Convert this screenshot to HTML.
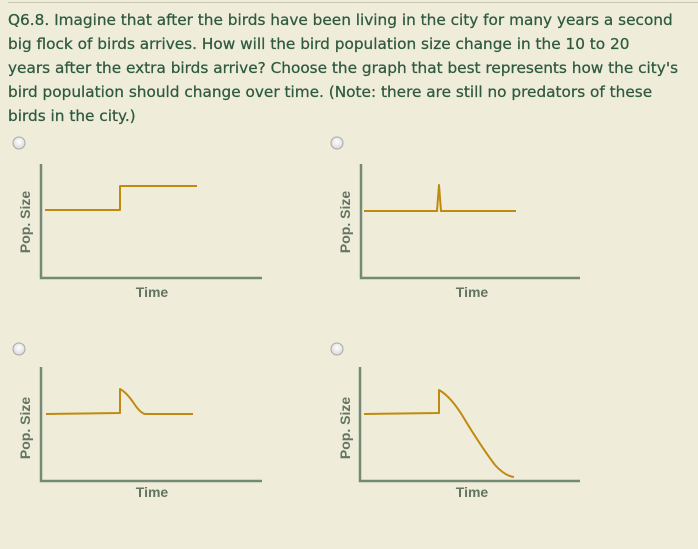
<!DOCTYPE html>
<html><head><meta charset="utf-8"><style>
html,body{margin:0;padding:0;width:698px;height:549px;background:#efecd9;overflow:hidden}
.q{position:absolute;left:8px;top:8px;width:690px;white-space:nowrap;font-family:"DejaVu Sans","Liberation Sans",sans-serif;font-size:15.3px;line-height:24px;color:#2e5a40;-webkit-text-stroke:0.25px #2e5a40}
.top{position:absolute;left:8px;top:2px;width:690px;height:1px;background:#c9c8b0}
svg{position:absolute;left:0;top:0}
</style></head><body>
<div class="top"></div>
<div class="q">Q6.8. Imagine that after the birds have been living in the city for many years a second<br>big flock of birds arrives. How will the bird population size change in the 10 to 20<br>years after the extra birds arrive? Choose the graph that best represents how the city's<br>bird population should change over time. (Note: there are still no predators of these<br>birds in the city.)</div>
<svg width="698" height="549" xmlns="http://www.w3.org/2000/svg">
<defs><radialGradient id="r" cx="50%" cy="40%" r="60%"><stop offset="0" stop-color="#ffffff"/><stop offset="1" stop-color="#d8d8d8"/></radialGradient></defs>
<g stroke="#a8a8a8" stroke-width="1" fill="url(#r)">
<circle cx="19" cy="143" r="6"/><circle cx="337" cy="143" r="6"/>
<circle cx="19" cy="349" r="6"/><circle cx="337" cy="349" r="6"/>
</g>
<g stroke="#748a74" stroke-width="2.5" fill="none">
<path d="M41 164V278H262"/><path d="M361 164V278H580"/>
<path d="M41 367V481H262"/><path d="M360 367V481H580"/>
</g>
<g font-family="Liberation Sans,sans-serif" font-weight="bold" font-size="14" fill="#627462" text-anchor="middle">
<text x="152" y="297">Time</text><text x="472" y="297">Time</text>
<text x="152" y="497">Time</text><text x="472" y="497">Time</text>
<text transform="translate(30,222) rotate(-90)">Pop. Size</text>
<text transform="translate(350,222) rotate(-90)">Pop. Size</text>
<text transform="translate(30,428) rotate(-90)">Pop. Size</text>
<text transform="translate(350,428) rotate(-90)">Pop. Size</text>
</g>
<g stroke="#c08a10" stroke-width="2" fill="none" stroke-linejoin="round">
<path d="M45 210H120V186H197"/>
<path d="M364 211H437L439 185L441 211H516"/>
<path d="M46 414L120 413V389Q126 392 133 402Q140 413 145 414H193"/>
<path d="M364 414L439 413V390Q450 396 462 415Q480 445 495 465Q505 476 514 477"/>
</g>
</svg>
</body></html>
